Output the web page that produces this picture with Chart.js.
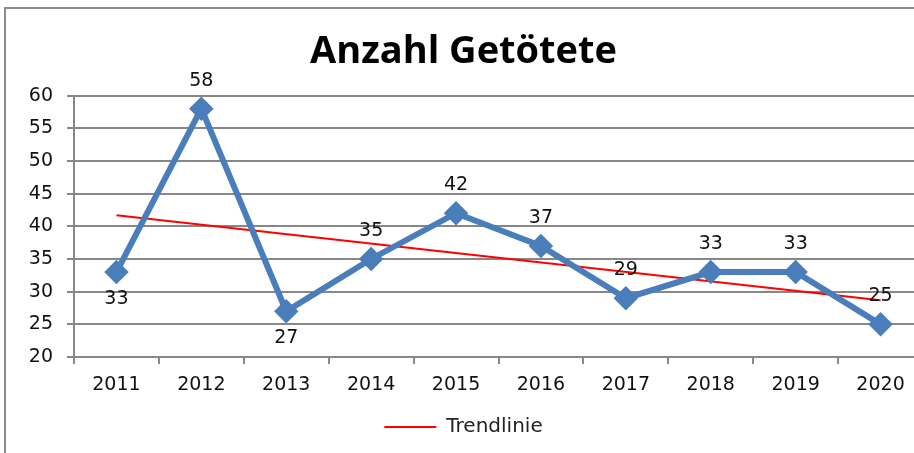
<!DOCTYPE html>
<html>
<head>
<meta charset="utf-8">
<script src="https://cdn.jsdelivr.net/npm/chart.js@4/dist/chart.umd.min.js"></script>
<style>
	body { margin:0; background:#fff; }
	#wrap { width:914px; height:453px; overflow:hidden; position:relative; }
	#chart { position:absolute; left:0; top:0; }
</style>
</head>
<body>
<div id="wrap"><canvas id="chart" width="937" height="453"></canvas></div>
<script>

// Categories (years). 
var years = ['2011','2012','2013','2014','2015','2016','2017','2018','2019','2020'];

// Number of people killed per year. 
var killed = [33, 58, 27, 35, 42, 37, 29, 33, 33, 25];

// Trend line: start (2011) and end (2020). 
var trendline = [41.7, null, null, null, null, null, null, null, null, 28.7];

// Where each data label sits relative to its point. 
var labelSide = ['below','above','below','above','above','above','above','above','above','above'];

// Value axis ticks. 
var yMin = 20, yMax = 60, yStep = 5;


/*****/

var grey = '#878787';
var tickFont = { family:'DejaVu Sans', size:19 };

// Outer frame of the chart (runs off the right and bottom edge). 
const frame = {
	id:'frame',
	beforeDraw(c) {
		let ctx = c.ctx;
		ctx.save();
		ctx.strokeStyle = '#8c8c8c';
		ctx.lineWidth = 2;
		ctx.strokeRect(5, 8, 2000, 2000);
		ctx.restore();
	}
};

// Value labels next to the points. 
const valueLabels = {
	id:'valueLabels',
	afterDatasetsDraw(c) {
		let ctx = c.ctx;
		let meta = c.getDatasetMeta(0);
		ctx.save();
		ctx.font = '19px "DejaVu Sans"';
		ctx.fillStyle = '#111';
		ctx.textAlign = 'center';
		ctx.textBaseline = 'middle';
		meta.data.forEach(function(pt, i) {
			let dy = labelSide[i]=='below' ? 27 : -28;
			ctx.fillText(String(killed[i]), pt.x, pt.y + dy);
		});
		ctx.restore();
	}
};

const chart = {
	type:'line',
	data:{
		labels:years,
		datasets:[
			{
				label:'Anzahl Getötete',
				data:killed,
				borderColor:'#4a7ebb',
				backgroundColor:'#4a7ebb',
				borderWidth:6,
				pointStyle:'rectRot',
				pointRadius:8,
				pointHoverRadius:8,
				tension:0
			},
			{
				label:'Trendlinie',
				data:trendline,
				spanGaps:true,
				borderColor:'#ff0000',
				backgroundColor:'#ff0000',
				borderWidth:2,
				pointRadius:0,
				pointStyle:'line'
			}
		]
	},
	options:{
		responsive:false,
		animation:false,
		layout:{ padding:{ top:29, bottom:6, left:0, right:10 } },
		plugins:{
			title:{
				display:true,
				text:'Anzahl Getötete',
				color:'#000',
				font:{ family:'Open Sans', size:38, weight:'bold', lineHeight:1.2 },
				padding:{ top:0, bottom:21 }
			},
			legend:{
				position:'bottom',
				labels:{
					filter:function(item) { return item.text=='Trendlinie'; },
					usePointStyle:true,
					pointStyleWidth:52,
					boxHeight:20,
					color:'#222',
					font:{ family:'DejaVu Sans', size:20 },
					padding:9
				}
			},
			tooltip:{ enabled:false }
		},
		scales:{
			x:{
				offset:true,
				grid:{ offset:true, drawOnChartArea:false, drawTicks:true, tickLength:7, color:grey, lineWidth:2 },
				border:{ color:grey, width:2 },
				ticks:{ color:'#111', font:tickFont, padding:10, maxRotation:0 },
				afterFit:function(s) { s.height = 51; }
			},
			y:{
				min:yMin,
				max:yMax,
				ticks:{ stepSize:yStep, color:'#111', font:tickFont, padding:14 },
				grid:{ color:grey, lineWidth:2, tickLength:7 },
				border:{ color:grey, width:2 },
				afterFit:function(s) { s.width = 74; }
			}
		}
	},
	plugins:[frame, valueLabels]
};

var normalChart = new Chart(document.getElementById('chart').getContext('2d'), chart);

</script>
</body>
</html>
